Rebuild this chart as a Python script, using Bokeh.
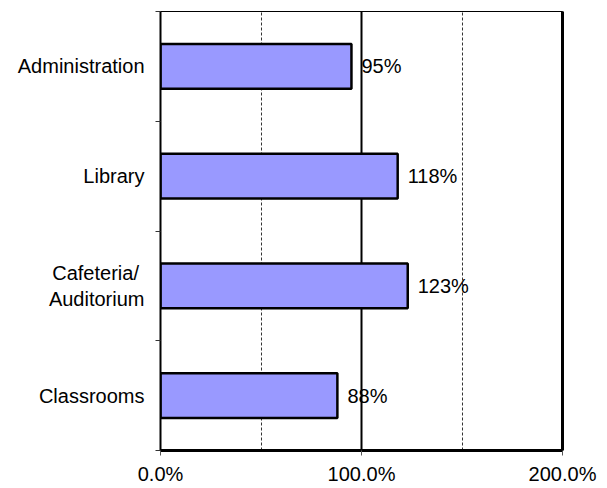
from bokeh.plotting import figure
from bokeh.models import ColumnDataSource, FixedTicker, PrintfTickFormatter, Grid, Range1d, LinearAxis
from bokeh.core.properties import value
from bokeh.embed import file_html
from bokeh.resources import INLINE

# Data (bottom to top)
categories = ["Classrooms", "Cafeteria/ \nAuditorium", "Library", "Administration"]
values = [88, 123, 118, 95]
value_labels = ["88%", "123%", "118%", "95%"]
x_ticks = [0, 100, 200]
x_dashed_grid = [50, 150]
x_solid_grid = [100]

FONT = "Liberation Sans"

ypos = [i + 0.5 for i in range(len(categories))]
src = ColumnDataSource(dict(y=ypos, v=values, lab=value_labels))

p = figure(width=607, height=488, x_range=Range1d(0, 200), y_range=Range1d(0, len(categories)),
           output_backend="svg", toolbar_location=None,
           min_border_left=160, min_border_right=45, min_border_top=11, min_border_bottom=38)
p.background_fill_color = "white"
p.border_fill_color = "white"
p.outline_line_color = "black"
p.outline_line_width = 1

p.xgrid.grid_line_color = None
p.ygrid.grid_line_color = None

p.add_layout(Grid(dimension=0, ticker=FixedTicker(ticks=x_dashed_grid), grid_line_color="#333333",
                  grid_line_width=1, grid_line_dash="3 2"))
p.add_layout(Grid(dimension=0, ticker=FixedTicker(ticks=x_solid_grid), grid_line_color="black",
                  grid_line_width=2))

p.hbar(y="y", left=0, right="v", height=0.41, source=src,
       fill_color="#9999FF", line_color="black", line_width=2.5)

p.text(x="v", y="y", text="lab", source=src, x_offset=10, text_align="left", text_baseline="middle",
       text_font=value(FONT), text_font_size="20px", text_color="black")

# x axis
xa = p.xaxis[0]
xa.ticker = FixedTicker(ticks=x_ticks)
xa.formatter = PrintfTickFormatter(format="%.1f%%")
xa.major_label_text_font = FONT
xa.major_label_text_font_size = "20px"
xa.major_label_text_color = "black"
xa.major_label_standoff = 7
xa.axis_line_width = 3
xa.axis_line_color = "black"
xa.major_tick_out = 5
xa.major_tick_in = 0
xa.major_tick_line_color = "#555555"
xa.minor_tick_line_color = None

# y axis
ya = p.yaxis[0]
ya.ticker = FixedTicker(ticks=ypos, minor_ticks=list(range(len(categories) + 1)))
ya.major_label_overrides = {y: c for y, c in zip(ypos, categories)}
ya.major_label_text_font = FONT
ya.major_label_text_font_size = "20px"
ya.major_label_text_color = "black"
ya.major_label_standoff = 11
ya.major_tick_out = 0
ya.major_tick_in = 0
ya.minor_tick_out = 5
ya.minor_tick_in = 0
ya.minor_tick_line_color = "#333333"
ya.axis_line_width = 2
ya.axis_line_color = "black"

# right border line
ra = LinearAxis(ticker=FixedTicker(ticks=[]), major_label_text_font_size="0px",
                major_tick_out=0, major_tick_in=0, minor_tick_out=0, minor_tick_in=0,
                axis_line_width=3, axis_line_color="black")
p.add_layout(ra, "right")

open("out.html", "w").write(file_html(p, INLINE))
